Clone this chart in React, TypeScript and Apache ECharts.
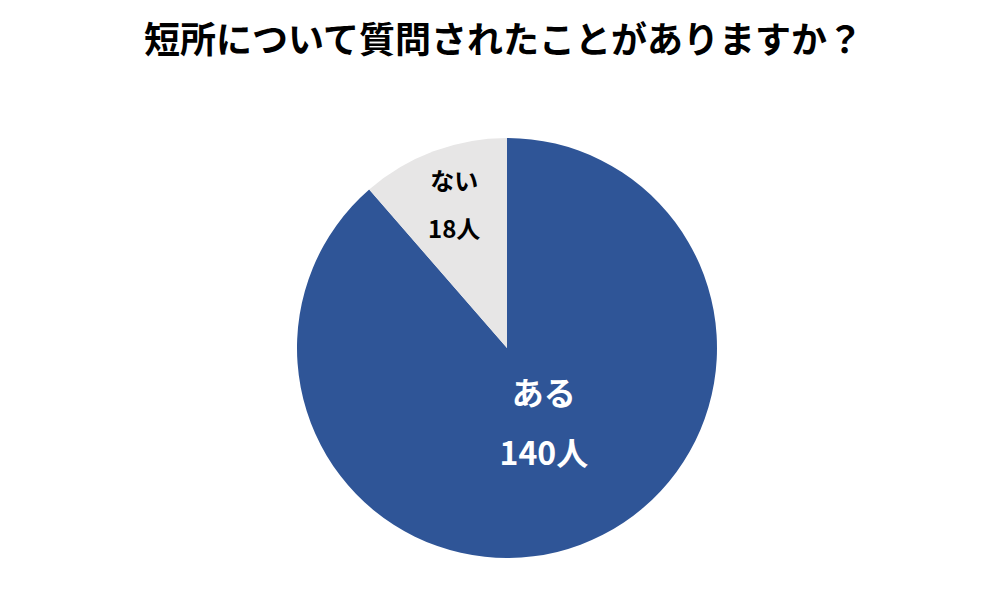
import { useEffect, useRef } from "react";
import * as echarts from "echarts";

const titleText = "短所について質問されたことがありますか？";
const categories = ["ある", "ない"];
const counts = [140, 18];
const unit = "人";

const FONT = '"Noto Sans CJK JP", "Noto Sans", sans-serif';

export default function App() {
  const chartRef = useRef<HTMLDivElement>(null);

  useEffect(() => {
    if (!chartRef.current) return;
    const chart = echarts.init(chartRef.current, null, { renderer: "svg" });

    chart.setOption({
      animation: false,
      backgroundColor: "#ffffff",
      title: {
        text: titleText,
        left: "center",
        top: 14,
        textStyle: {
          fontFamily: FONT,
          fontSize: 36,
          fontWeight: "bold",
          color: "#000000",
        },
      },
      series: [
        {
          type: "pie",
          center: [507, 348],
          radius: [0, 210],
          startAngle: 90,
          clockwise: true,
          silent: true,
          labelLine: { show: false },
          data: [
            {
              name: categories[0],
              value: counts[0],
              itemStyle: { color: "#2F5597" },
              label: {
                show: true,
                position: "inside",
                offset: [-1, -28],
                formatter: (p: any) => `{a|${p.name}}\n{a|${p.value}${unit}}`,
                rich: {
                  a: {
                    fontFamily: FONT,
                    fontSize: 32,
                    fontWeight: "bold",
                    color: "#ffffff",
                    lineHeight: 60,
                  },
                },
              },
            },
            {
              name: categories[1],
              value: counts[1],
              itemStyle: { color: "#E7E6E6" },
              label: {
                show: true,
                position: "inside",
                offset: [-15, -43],
                formatter: (p: any) => `{a|${p.name}}\n{a|${p.value}${unit}}`,
                rich: {
                  a: {
                    fontFamily: FONT,
                    fontSize: 24,
                    fontWeight: "bold",
                    color: "#000000",
                    lineHeight: 48,
                  },
                },
              },
            },
          ],
        },
      ],
    });

    return () => {
      chart.dispose();
    };
  }, []);

  return <div ref={chartRef} style={{ width: 1007, height: 591, margin: -8 }} />;
}
